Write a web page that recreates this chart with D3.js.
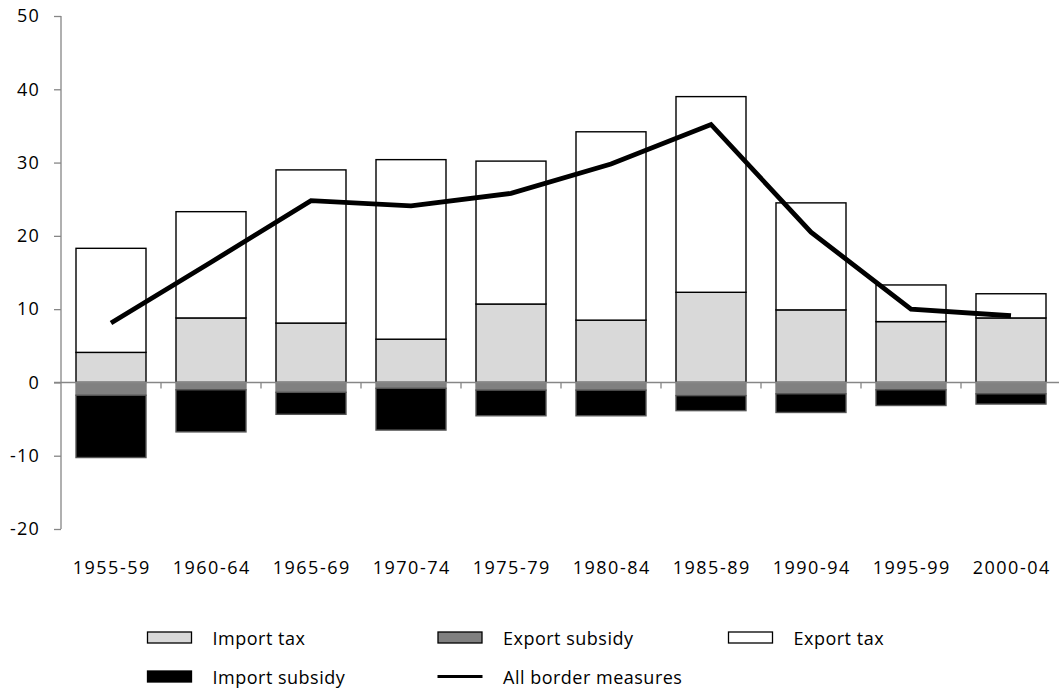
<!DOCTYPE html>
<html>
<head>
<meta charset="utf-8">
<script src="https://cdn.jsdelivr.net/npm/d3@7"></script>
<style>
	body { margin: 0; background: #fff; }
	text { font-family: "Open Sans", sans-serif; fill: #000; }
</style>
</head>
<body>
<div id="chart"></div>
<script>
// data
var periods = ["1955-59", "1960-64", "1965-69", "1970-74", "1975-79", "1980-84", "1985-89", "1990-94", "1995-99", "2000-04"];
var importTax = [4.1, 8.8, 8.1, 5.9, 10.7, 8.5, 12.3, 9.9, 8.3, 8.8];
var exportTax = [14.2, 14.5, 20.9, 24.5, 19.5, 25.7, 26.7, 14.6, 5.0, 3.3];
var exportSubsidy = [-1.75, -1.0, -1.35, -0.8, -1.05, -1.05, -1.8, -1.55, -1.0, -1.55];
var importSubsidy = [-8.5, -5.75, -3.0, -5.7, -3.5, -3.5, -2.05, -2.55, -2.15, -1.4];
var allBorder = [8.1, 16.4, 24.8, 24.1, 25.8, 29.8, 35.2, 20.5, 10.0, 9.1];
var yTicks = [-20, -10, 0, 10, 20, 30, 40, 50];

var w = 1059;
var h = 692;
var axisColor = "#868686";

var svg = d3.select("#chart")
			.append("svg")
			.attr("width", w)
			.attr("height", h);

var x = d3.scaleBand()
			.domain(periods)
			.range([61, 1061])
			.paddingInner(0.3)
			.paddingOuter(0.15);

var y = d3.scaleLinear()
			.domain([-20, 50])
			.range([529, 16]);

// build stacked segments: positives go up from 0, negatives go down from 0
var segments = [];
for (var i = 0; i < periods.length; i++) {
	segments.push({p: periods[i], y0: 0, y1: importTax[i], fill: "#d9d9d9", stroke: "#000"});
	segments.push({p: periods[i], y0: importTax[i], y1: importTax[i] + exportTax[i], fill: "#fff", stroke: "#000"});
	segments.push({p: periods[i], y0: 0, y1: exportSubsidy[i], fill: "#808080", stroke: "#808080"});
	segments.push({p: periods[i], y0: exportSubsidy[i], y1: exportSubsidy[i] + importSubsidy[i], fill: "#000", stroke: "#555"});
}

svg.append("g")
	.selectAll("rect")
	.data(segments)
	.enter()
	.append("rect")
	.attr("x", function(d) { return x(d.p); })
	.attr("width", x.bandwidth())
	.attr("y", function(d) { return y(Math.max(d.y0, d.y1)); })
	.attr("height", function(d) { return Math.abs(y(d.y0) - y(d.y1)); })
	.attr("fill", function(d) { return d.fill; })
	.attr("stroke", function(d) { return d.stroke; })
	.attr("stroke-width", 1.4);

// y axis
var yAxis = svg.append("g")
	.attr("transform", "translate(" + x.range()[0] + ",0)")
	.call(d3.axisLeft(y).tickValues(yTicks).tickSize(7).tickPadding(14)
		.tickFormat(function(d) { return String(d); }));
yAxis.selectAll("path, line").attr("stroke", axisColor).attr("stroke-width", 1.3);
yAxis.select(".domain").attr("d", "M0," + y(50) + "V" + y(-20));
yAxis.selectAll("text")
	.attr("font-family", "Open Sans")
	.attr("font-size", 18)
	.attr("letter-spacing", 1.2)
	.attr("fill", "#000");

// zero line with category separators
var zero = svg.append("g");
zero.append("line")
	.attr("x1", x.range()[0] - 7)
	.attr("x2", w)
	.attr("y1", y(0))
	.attr("y2", y(0))
	.attr("stroke", axisColor)
	.attr("stroke-width", 1.6);
zero.selectAll("line.sep")
	.data(periods.slice(1))
	.enter()
	.append("line")
	.attr("class", "sep")
	.attr("x1", function(d) { return x(d) - x.step() * x.paddingInner() / 2; })
	.attr("x2", function(d) { return x(d) - x.step() * x.paddingInner() / 2; })
	.attr("y1", y(0))
	.attr("y2", y(0) + 6)
	.attr("stroke", axisColor)
	.attr("stroke-width", 1.3);

// category labels
svg.append("g")
	.selectAll("text")
	.data(periods)
	.enter()
	.append("text")
	.text(function(d) { return d; })
	.attr("x", function(d) { return x(d) + x.bandwidth() / 2 + 0.75; })
	.attr("y", 574)
	.attr("text-anchor", "middle")
	.attr("font-size", 18)
	.attr("letter-spacing", 1.5);

// total line
var line = d3.line()
	.x(function(d, i) { return x(periods[i]) + x.bandwidth() / 2; })
	.y(function(d) { return y(d); });

svg.append("path")
	.datum(allBorder)
	.attr("d", line)
	.attr("fill", "none")
	.attr("stroke", "#000")
	.attr("stroke-width", 4.8)
	.attr("stroke-linejoin", "miter");

// legend
var legendItems = [
	{name: "Import tax", fill: "#d9d9d9", col: 0, row: 0},
	{name: "Export subsidy", fill: "#808080", col: 1, row: 0},
	{name: "Export tax", fill: "#fff", col: 2, row: 0},
	{name: "Import subsidy", fill: "#000", col: 0, row: 1},
	{name: "All border measures", fill: null, col: 1, row: 1}
];

var legend = svg.append("g")
	.selectAll("g")
	.data(legendItems)
	.enter()
	.append("g")
	.attr("transform", function(d) {
		return "translate(" + (147 + d.col * 290.5) + "," + (631.5 + d.row * 39) + ")";
	});

legend.filter(function(d) { return d.fill != null; })
	.append("rect")
	.attr("x", 0.5)
	.attr("y", 0.5)
	.attr("width", 44)
	.attr("height", 11)
	.attr("fill", function(d) { return d.fill; })
	.attr("stroke", "#000")
	.attr("stroke-width", 1.3);

legend.filter(function(d) { return d.fill == null; })
	.append("line")
	.attr("x1", 0)
	.attr("x2", 45)
	.attr("y1", 6)
	.attr("y2", 6)
	.attr("stroke", "#000")
	.attr("stroke-width", 3);

legend.append("text")
	.text(function(d) { return d.name; })
	.attr("x", 65.5)
	.attr("y", 13)
	.attr("font-size", 18)
	.attr("letter-spacing", 0.5);
</script>
</body>
</html>
